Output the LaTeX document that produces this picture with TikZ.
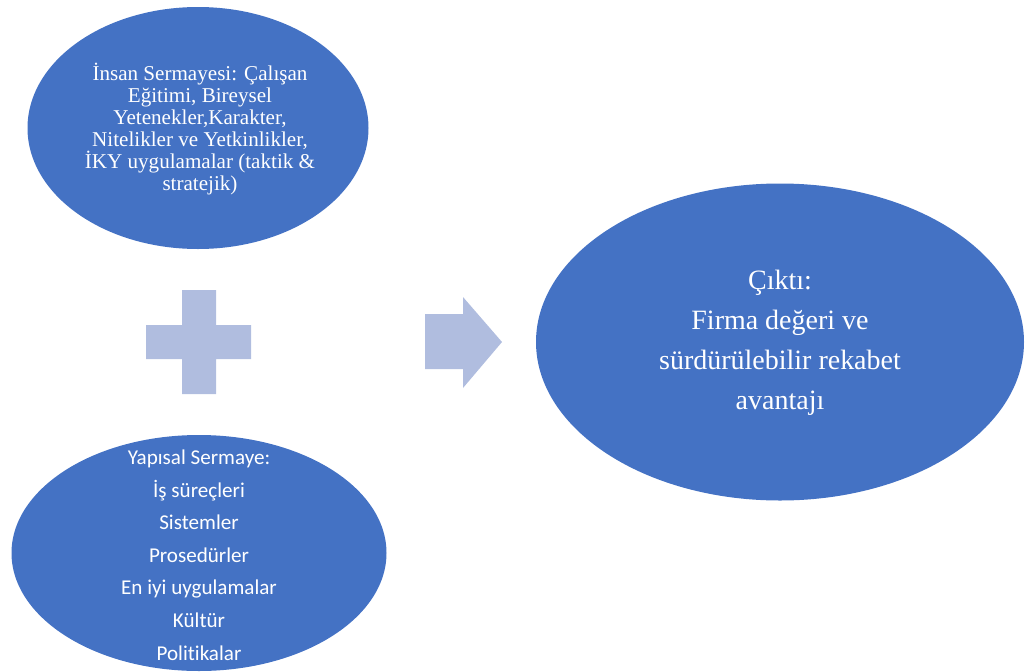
\documentclass[tikz,border=0pt]{standalone}
\usepackage{fontspec}
\setmainfont{Liberation Serif}
\newfontfamily\calibrifont[Ligatures={NoCommon,NoRare}]{Carlito}
\usetikzlibrary{shapes.geometric}
\definecolor{blobblue}{RGB}{68,114,196}
\definecolor{symbolblue}{RGB}{176,189,223}
\begin{document}
\begin{tikzpicture}[x=0.025cm,y=-0.025cm,
  blob/.style={ellipse,fill=blobblue,draw=none,inner sep=0pt},
  blobtext/.style={text=white,align=center,inner sep=0pt},
  symbol/.style={fill=symbolblue,draw=none}]
\useasboundingbox (0,0) rectangle (1028,672);
\clip (0,0) rectangle (1028,672);

% human capital
\node[blob,minimum width=341*0.025cm,minimum height=242*0.025cm] (human) at (198,128) {};
\node[blobtext,font=\fontsize{15}{15.6}\selectfont] (humantext) at (200,129)
  {İnsan Sermayesi: Çalışan\\Eğitimi, Bireysel\\Yetenekler,Karakter,\\Nitelikler ve Yetkinlikler,\\İKY uygulamalar (taktik \&\\stratejik)};

% structural capital
\node[blob,minimum width=375*0.025cm,minimum height=236*0.025cm] (struct) at (199,553) {};
\node[blobtext,font=\calibrifont\fontsize{15}{23.2}\selectfont] (structtext) at (199,555)
  {Yapısal Sermaye:\\İş süreçleri\\Sistemler\\Prosedürler\\En iyi uygulamalar\\Kültür\\Politikalar};

% output
\node[blob,minimum width=488*0.025cm,minimum height=317*0.025cm] (output) at (780,342) {};
\node[blobtext,font=\fontsize{19.9}{28.4}\selectfont] (outputtext) at (780,343)
  {Çıktı:\\Firma değeri ve\\sürdürülebilir rekabet\\avantajı};

% plus sign
\fill[symbol] (182,290) -- (216,290) -- (216,325) -- (251,325) -- (251,359)
  -- (216,359) -- (216,394) -- (182,394) -- (182,359) -- (146,359)
  -- (146,325) -- (182,325) -- cycle;

% block arrow
\fill[symbol] (425,314) -- (463,314) -- (463,297) -- (502,342) -- (463,388)
  -- (463,369) -- (425,369) -- cycle;
\end{tikzpicture}
\end{document}
